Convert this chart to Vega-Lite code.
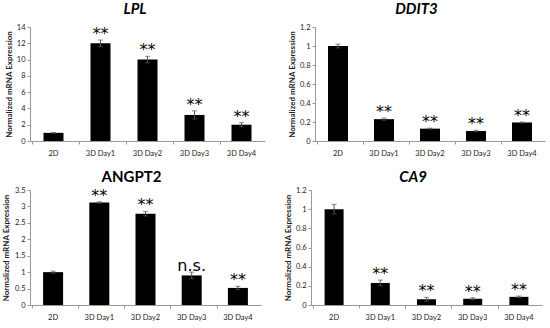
{
  "$schema": "https://vega.github.io/schema/vega-lite/v6.json",
  "padding": {"left": 2, "top": 2, "right": 2, "bottom": 0},
  "background": "white",
  "datasets": {
    "expr": [
      {"gene": "LPL", "cat": "2D", "value": 1.0, "lo": 0.95, "hi": 1.05, "sig": ""},
      {"gene": "LPL", "cat": "3D Day1", "value": 12.0, "lo": 11.6, "hi": 12.4, "sig": "**"},
      {"gene": "LPL", "cat": "3D Day2", "value": 10.0, "lo": 9.6, "hi": 10.4, "sig": "**"},
      {"gene": "LPL", "cat": "3D Day3", "value": 3.2, "lo": 2.7, "hi": 3.7, "sig": "**"},
      {"gene": "LPL", "cat": "3D Day4", "value": 2.0, "lo": 1.75, "hi": 2.25, "sig": "**"},
      {"gene": "DDIT3", "cat": "2D", "value": 1.0, "lo": 0.98, "hi": 1.02, "sig": ""},
      {"gene": "DDIT3", "cat": "3D Day1", "value": 0.23, "lo": 0.22, "hi": 0.24, "sig": "**"},
      {"gene": "DDIT3", "cat": "3D Day2", "value": 0.13, "lo": 0.125, "hi": 0.135, "sig": "**"},
      {"gene": "DDIT3", "cat": "3D Day3", "value": 0.105, "lo": 0.097, "hi": 0.113, "sig": "**"},
      {"gene": "DDIT3", "cat": "3D Day4", "value": 0.195, "lo": 0.19, "hi": 0.2, "sig": "**"},
      {"gene": "ANGPT2", "cat": "2D", "value": 1.0, "lo": 0.97, "hi": 1.03, "sig": ""},
      {"gene": "ANGPT2", "cat": "3D Day1", "value": 3.12, "lo": 3.1, "hi": 3.14, "sig": "**"},
      {"gene": "ANGPT2", "cat": "3D Day2", "value": 2.78, "lo": 2.71, "hi": 2.85, "sig": "**"},
      {"gene": "ANGPT2", "cat": "3D Day3", "value": 0.9, "lo": 0.8, "hi": 1.0, "sig": "n.s."},
      {"gene": "ANGPT2", "cat": "3D Day4", "value": 0.52, "lo": 0.47, "hi": 0.57, "sig": "**"},
      {"gene": "CA9", "cat": "2D", "value": 1.0, "lo": 0.95, "hi": 1.05, "sig": ""},
      {"gene": "CA9", "cat": "3D Day1", "value": 0.23, "lo": 0.2, "hi": 0.26, "sig": "**"},
      {"gene": "CA9", "cat": "3D Day2", "value": 0.06, "lo": 0.04, "hi": 0.08, "sig": "**"},
      {"gene": "CA9", "cat": "3D Day3", "value": 0.065, "lo": 0.055, "hi": 0.075, "sig": "**"},
      {"gene": "CA9", "cat": "3D Day4", "value": 0.085, "lo": 0.077, "hi": 0.093, "sig": "**"}
    ]
  },
  "spacing": 13,
  "vconcat": [
    {
      "spacing": 23,
      "hconcat": [
        {
          "title": {"text": "LPL", "fontStyle": "italic"},
          "width": 235, "height": 114,
          "data": {"name": "expr"},
          "transform": [{"filter": "datum.gene === 'LPL'"}],
          "encoding": {"x": {"field": "cat", "type": "nominal", "sort": ["2D", "3D Day1", "3D Day2", "3D Day3", "3D Day4"], "title": null}},
          "layer": [
            {"mark": {"type": "bar", "size": 20, "color": "black"},
             "encoding": {"y": {"field": "value", "type": "quantitative", "scale": {"domain": [0, 14]}, "axis": {"values": [0, 2, 4, 6, 8, 10, 12, 14], "title": "Normalized mRNA Expression", "minExtent": 14, "maxExtent": 14}}}},
            {"mark": {"type": "errorbar", "ticks": {"size": 5}, "color": "#555"},
             "encoding": {"y": {"field": "lo", "type": "quantitative", "title": "Normalized mRNA Expression"}, "y2": {"field": "hi"}}},
            {"mark": {"type": "text", "baseline": "bottom", "dy": 2, "fontSize": 16, "font": "DejaVu Sans", "color": "black"},
             "encoding": {"y": {"field": "hi", "type": "quantitative", "title": "Normalized mRNA Expression"}, "text": {"field": "sig"}}}
          ]
        },
        {
          "title": {"text": "DDIT3", "fontStyle": "italic"},
          "width": 230, "height": 114,
          "data": {"name": "expr"},
          "transform": [{"filter": "datum.gene === 'DDIT3'"}],
          "encoding": {"x": {"field": "cat", "type": "nominal", "sort": ["2D", "3D Day1", "3D Day2", "3D Day3", "3D Day4"], "title": null}},
          "layer": [
            {"mark": {"type": "bar", "size": 20, "color": "black"},
             "encoding": {"y": {"field": "value", "type": "quantitative", "scale": {"domain": [0, 1.2]}, "axis": {"values": [0, 0.2, 0.4, 0.6, 0.8, 1, 1.2], "format": "~g", "title": "Normalized mRNA Expression", "minExtent": 16, "maxExtent": 16}}}},
            {"mark": {"type": "errorbar", "ticks": {"size": 5}, "color": "#555"},
             "encoding": {"y": {"field": "lo", "type": "quantitative", "title": "Normalized mRNA Expression"}, "y2": {"field": "hi"}}},
            {"mark": {"type": "text", "baseline": "bottom", "dy": 2, "fontSize": 16, "font": "DejaVu Sans", "color": "black"},
             "encoding": {"y": {"field": "hi", "type": "quantitative", "title": "Normalized mRNA Expression"}, "text": {"field": "sig"}}}
          ]
        }
      ]
    },
    {
      "spacing": 23,
      "hconcat": [
        {
          "title": {"text": "ANGPT2", "fontStyle": "normal", "offset": 1},
          "width": 231, "height": 115,
          "data": {"name": "expr"},
          "transform": [{"filter": "datum.gene === 'ANGPT2'"}],
          "encoding": {"x": {"field": "cat", "type": "nominal", "sort": ["2D", "3D Day1", "3D Day2", "3D Day3", "3D Day4"], "title": null}},
          "layer": [
            {"mark": {"type": "bar", "size": 20, "color": "black"},
             "encoding": {"y": {"field": "value", "type": "quantitative", "scale": {"domain": [0, 3.5]}, "axis": {"values": [0, 0.5, 1, 1.5, 2, 2.5, 3, 3.5], "format": "~g", "title": "Normalized mRNA Expression", "minExtent": 17, "maxExtent": 17}}}},
            {"mark": {"type": "errorbar", "ticks": {"size": 5}, "color": "#555"},
             "encoding": {"y": {"field": "lo", "type": "quantitative", "title": "Normalized mRNA Expression"}, "y2": {"field": "hi"}}},
            {"mark": {"type": "text", "baseline": "bottom", "dy": 2, "fontSize": 16, "font": "DejaVu Sans", "color": "black"},
             "encoding": {"y": {"field": "hi", "type": "quantitative", "title": "Normalized mRNA Expression"}, "text": {"field": "sig"}}}
          ]
        },
        {
          "title": {"text": "CA9", "fontStyle": "italic", "offset": 1},
          "width": 231, "height": 115,
          "data": {"name": "expr"},
          "transform": [{"filter": "datum.gene === 'CA9'"}],
          "encoding": {"x": {"field": "cat", "type": "nominal", "sort": ["2D", "3D Day1", "3D Day2", "3D Day3", "3D Day4"], "title": null}},
          "layer": [
            {"mark": {"type": "bar", "size": 19, "color": "black"},
             "encoding": {"y": {"field": "value", "type": "quantitative", "scale": {"domain": [0, 1.2]}, "axis": {"values": [0, 0.2, 0.4, 0.6, 0.8, 1, 1.2], "format": "~g", "title": "Normalized mRNA Expression", "minExtent": 16, "maxExtent": 16}}}},
            {"mark": {"type": "errorbar", "ticks": {"size": 5}, "color": "#555"},
             "encoding": {"y": {"field": "lo", "type": "quantitative", "title": "Normalized mRNA Expression"}, "y2": {"field": "hi"}}},
            {"mark": {"type": "text", "baseline": "bottom", "dy": 2, "fontSize": 16, "font": "DejaVu Sans", "color": "black"},
             "encoding": {"y": {"field": "hi", "type": "quantitative", "title": "Normalized mRNA Expression"}, "text": {"field": "sig"}}}
          ]
        }
      ]
    }
  ],
  "config": {
    "view": {"stroke": null},
    "font": "Lato",
    "title": {"font": "Lato", "fontSize": 15, "fontWeight": "bold", "color": "black", "frame": "bounds", "anchor": "middle", "offset": 6},
    "axis": {"grid": false, "domainColor": "#999", "tickColor": "#999", "labelFont": "Lato", "labelFontSize": 7.5, "labelColor": "#222", "titleFont": "Lato", "titleFontSize": 8, "titleFontWeight": "bold", "titleColor": "#222", "tickSize": 3, "labelPadding": 2, "titlePadding": 3},
    "axisX": {"labelAngle": 0, "bandPosition": 0, "tickSize": 3, "labelPadding": 5},
    "axisY": {"tickCount": 8}
  }
}
